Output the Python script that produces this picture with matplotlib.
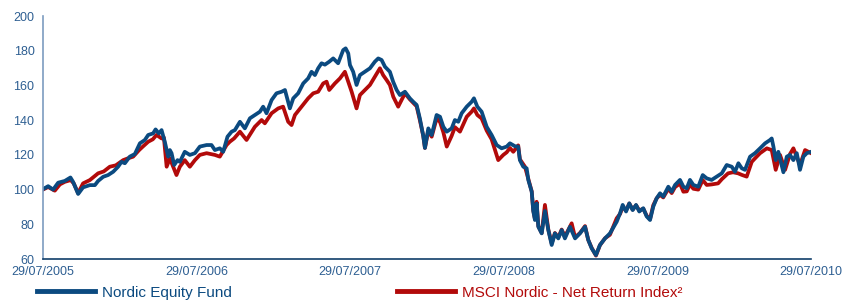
import matplotlib
matplotlib.use("Agg")
import matplotlib.pyplot as plt

# years since 29/07/2005, index level
fund_t = [0.000, 0.035, 0.067, 0.100, 0.143, 0.180, 0.197, 0.230, 0.262, 0.306,
          0.339, 0.360, 0.393, 0.425, 0.458, 0.490, 0.512, 0.534, 0.566, 0.599,
          0.632, 0.664, 0.686, 0.718, 0.734, 0.755, 0.773, 0.794, 0.816, 0.827,
          0.838, 0.855, 0.877, 0.892, 0.924, 0.957, 0.990, 1.022, 1.066, 1.098,
          1.120, 1.152, 1.174, 1.202, 1.229, 1.250, 1.283, 1.315, 1.348, 1.380,
          1.413, 1.434, 1.456, 1.489, 1.521, 1.554, 1.576, 1.597, 1.608, 1.630,
          1.662, 1.695, 1.727, 1.749, 1.771, 1.792, 1.814, 1.836, 1.864, 1.890,
          1.922, 1.955, 1.971, 1.988, 1.999, 2.020, 2.042, 2.064, 2.096, 2.129,
          2.161, 2.183, 2.205, 2.227, 2.259, 2.280, 2.303, 2.324, 2.357, 2.389,
          2.411, 2.433, 2.454, 2.476, 2.487, 2.509, 2.531, 2.563, 2.585, 2.607,
          2.629, 2.661, 2.682, 2.704, 2.726, 2.759, 2.791, 2.806, 2.828, 2.856,
          2.889, 2.921, 2.954, 2.986, 3.019, 3.040, 3.073, 3.094, 3.105, 3.127,
          3.149, 3.160, 3.182, 3.192, 3.203, 3.214, 3.225, 3.247, 3.268, 3.290,
          3.312, 3.333, 3.355, 3.377, 3.398, 3.431, 3.464, 3.496, 3.529, 3.550,
          3.572, 3.600, 3.626, 3.659, 3.691, 3.735, 3.757, 3.774, 3.796, 3.817,
          3.839, 3.861, 3.882, 3.908, 3.930, 3.952, 3.973, 3.995, 4.017, 4.038,
          4.071, 4.093, 4.115, 4.147, 4.169, 4.191, 4.212, 4.234, 4.266, 4.295,
          4.321, 4.353, 4.386, 4.419, 4.451, 4.484, 4.505, 4.527, 4.549, 4.570,
          4.603, 4.635, 4.668, 4.701, 4.733, 4.744, 4.755, 4.770, 4.787, 4.820,
          4.842, 4.863, 4.885, 4.907, 4.928, 4.950, 4.972, 5.000]
fund_v = [100.2, 102.0, 100.0, 104.0, 105.0, 107.0, 104.5, 97.5, 101.3, 102.6,
          102.6, 105.0, 107.4, 108.4, 110.3, 113.2, 116.0, 115.2, 119.0, 120.5,
          126.7, 128.6, 131.5, 132.4, 134.7, 132.4, 134.3, 127.6, 119.0, 122.8,
          121.0, 114.2, 117.0, 116.0, 121.8, 120.0, 121.0, 124.8, 125.7, 125.7,
          122.8, 123.8, 121.8, 130.5, 133.4, 134.3, 139.1, 135.3, 141.1, 143.0,
          144.9, 147.8, 144.0, 151.6, 155.5, 156.4, 157.4, 150.6, 146.8, 152.6,
          155.5, 161.2, 164.1, 167.9, 166.0, 169.9, 172.8, 172.0, 173.7, 175.6,
          172.8, 180.4, 181.4, 178.5, 171.8, 167.9, 160.3, 166.0, 167.9, 169.9,
          173.7, 175.6, 174.7, 170.8, 167.9, 162.2, 157.4, 154.5, 156.4, 152.6,
          150.6, 148.8, 141.0, 131.0, 124.0, 135.3, 131.5, 143.0, 142.0, 136.2,
          133.4, 135.3, 140.1, 139.1, 144.0, 147.8, 150.6, 152.6, 147.8, 144.9,
          136.2, 131.5, 125.7, 123.8, 124.8, 126.7, 125.0, 124.8, 117.0, 113.2,
          112.3, 105.5, 98.8, 87.7, 82.5, 92.0, 78.6, 74.8, 87.7, 76.7,
          68.1, 74.8, 71.9, 76.7, 71.9, 78.6, 71.9, 74.8, 78.6, 71.0,
          66.2, 62.3, 68.1, 71.9, 74.8, 81.5, 86.4, 91.2, 87.4, 92.1,
          88.2, 91.2, 87.4, 89.3, 84.6, 82.5, 90.2, 95.0, 97.9, 96.0,
          101.7, 98.8, 102.7, 105.6, 101.7, 100.8, 105.6, 102.7, 101.7, 108.4,
          106.5, 105.6, 107.5, 109.4, 114.2, 113.2, 110.3, 115.2, 112.3, 111.4,
          119.0, 121.0, 123.8, 126.7, 128.6, 129.5, 124.8, 117.0, 121.8, 110.0,
          119.0, 120.0, 117.0, 121.0, 111.4, 119.0, 121.0, 121.8]

msci_t = [0.000, 0.035, 0.078, 0.111, 0.143, 0.182, 0.202, 0.230, 0.262, 0.306,
          0.360, 0.397, 0.436, 0.475, 0.523, 0.553, 0.588, 0.627, 0.651, 0.686,
          0.716, 0.740, 0.773, 0.788, 0.806, 0.827, 0.870, 0.892, 0.924, 0.957,
          0.990, 1.022, 1.066, 1.120, 1.152, 1.196, 1.217, 1.245, 1.283, 1.326,
          1.380, 1.424, 1.445, 1.489, 1.532, 1.564, 1.597, 1.619, 1.641, 1.684,
          1.727, 1.760, 1.792, 1.825, 1.847, 1.864, 1.901, 1.934, 1.966, 1.988,
          2.010, 2.042, 2.064, 2.096, 2.129, 2.161, 2.194, 2.215, 2.238, 2.259,
          2.281, 2.313, 2.357, 2.389, 2.411, 2.433, 2.454, 2.476, 2.487, 2.509,
          2.531, 2.563, 2.585, 2.607, 2.629, 2.661, 2.682, 2.715, 2.759, 2.791,
          2.806, 2.828, 2.856, 2.889, 2.921, 2.964, 2.997, 3.019, 3.040, 3.062,
          3.094, 3.105, 3.138, 3.160, 3.182, 3.192, 3.203, 3.214, 3.225, 3.247,
          3.268, 3.290, 3.312, 3.333, 3.355, 3.377, 3.398, 3.442, 3.464, 3.496,
          3.529, 3.550, 3.572, 3.600, 3.626, 3.659, 3.691, 3.735, 3.757, 3.774,
          3.796, 3.817, 3.839, 3.861, 3.882, 3.908, 3.930, 3.952, 3.973, 3.995,
          4.017, 4.038, 4.071, 4.093, 4.115, 4.147, 4.169, 4.191, 4.212, 4.234,
          4.266, 4.295, 4.321, 4.353, 4.395, 4.419, 4.460, 4.492, 4.525, 4.549,
          4.581, 4.614, 4.635, 4.668, 4.712, 4.744, 4.770, 4.798, 4.831, 4.863,
          4.885, 4.928, 4.961, 5.000]
msci_v = [100.0, 101.5, 99.4, 103.0, 104.5, 105.5, 103.5, 98.0, 103.6, 105.5,
          109.4, 110.5, 113.2, 114.0, 117.0, 118.0, 119.0, 122.8, 124.8, 127.6,
          129.0, 131.5, 129.5, 130.0, 113.2, 118.0, 108.4, 113.2, 117.0, 113.2,
          117.0, 120.0, 121.0, 120.0, 119.0, 125.7, 127.6, 129.5, 133.4, 128.6,
          136.2, 140.1, 138.2, 144.0, 146.8, 147.8, 139.1, 137.2, 143.0, 147.8,
          152.6, 155.5, 156.4, 161.2, 162.2, 157.4, 161.2, 164.1, 167.9, 162.2,
          156.4, 146.8, 154.5, 157.4, 160.3, 165.0, 169.9, 166.0, 163.1, 160.3,
          153.5, 147.8, 155.5, 152.0, 150.0, 148.0, 140.0, 131.0, 124.0, 134.0,
          130.5, 141.0, 139.0, 133.0, 124.8, 131.0, 136.0, 133.4, 142.0, 144.9,
          146.8, 143.0, 141.0, 134.0, 129.0, 117.0, 120.0, 121.5, 124.0, 121.8,
          125.5, 117.5, 113.2, 106.0, 99.0, 88.0, 83.0, 93.0, 79.0, 75.0,
          91.2, 77.0, 69.0, 75.0, 72.5, 77.0, 73.0, 80.6, 72.5, 75.0,
          79.0, 71.0, 66.5, 62.0, 68.0, 72.0, 74.0, 83.5, 86.0, 90.0,
          88.0, 92.0, 88.5, 91.0, 88.0, 89.0, 85.0, 83.0, 91.0, 95.0,
          97.0, 95.5, 100.5, 98.0, 101.5, 103.5, 98.8, 99.0, 103.0, 100.5,
          100.0, 105.5, 102.7, 103.0, 103.6, 106.0, 109.4, 110.0, 109.4, 108.5,
          107.5, 116.0, 118.0, 121.0, 123.8, 122.8, 111.4, 120.0, 111.4, 120.5,
          123.8, 114.2, 122.8, 121.0]

x_ticks = [0, 1, 2, 3, 4, 5]
x_labels = ["29/07/2005", "29/07/2006", "29/07/2007", "29/07/2008", "29/07/2009", "29/07/2010"]
y_ticks = [60, 80, 100, 120, 140, 160, 180, 200]

BLUE = "#0b4a80"
RED = "#b20a0a"
TXT = "#2e5f92"

plt.rcParams["font.family"] = ["Liberation Sans", "DejaVu Sans"]

fig = plt.figure(figsize=(8.56, 3.03), dpi=100)
ax = fig.add_axes([0.050, 0.145, 0.8975, 0.802])

ax.plot(msci_t, msci_v, color=RED, lw=2.7, solid_joinstyle="round",
        label="MSCI Nordic - Net Return Index²")
ax.plot(fund_t, fund_v, color=BLUE, lw=2.7, solid_joinstyle="round",
        label="Nordic Equity Fund")

ax.set_xlim(0, 5)
ax.set_ylim(60, 200)
ax.set_xticks(x_ticks)
ax.set_xticklabels(x_labels)
ax.set_yticks(y_ticks)
ax.tick_params(length=0, labelsize=9, colors=TXT)
ax.tick_params(axis="x", pad=5)
ax.tick_params(axis="y", pad=6)

for s in ["top", "right"]:
    ax.spines[s].set_visible(False)
ax.spines["left"].set_color("#7d9cc0")
ax.spines["left"].set_linewidth(1.2)
ax.spines["bottom"].set_color("#103e6a")
ax.spines["bottom"].set_linewidth(1.2)

handles, labels = ax.get_legend_handles_labels()
leg = ax.legend(handles[::-1], labels[::-1], loc="upper left", ncol=2,
                bbox_to_anchor=(-0.007, -0.11), frameon=False, fontsize=11,
                handlelength=3.8, handletextpad=0.45, columnspacing=10.8,
                borderaxespad=0, borderpad=0)
for txt, c in zip(leg.get_texts(), [BLUE, RED]):
    txt.set_color(c)
for ln in leg.get_lines():
    ln.set_linewidth(3.5)

fig.savefig("out.png", dpi=100)
